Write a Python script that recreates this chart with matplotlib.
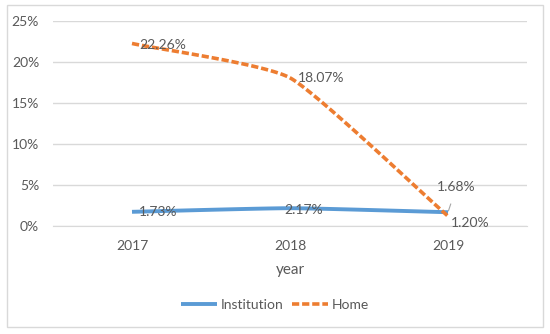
import numpy as np
import matplotlib
matplotlib.use("Agg")
import matplotlib.pyplot as plt
from matplotlib.patches import Rectangle

years = ["2017", "2018", "2019"]
institution = [1.73, 2.17, 1.68]
home = [22.26, 18.07, 1.20]
yticks = [0, 5, 10, 15, 20, 25]

BLUE = "#5B9BD5"
ORANGE = "#ED7D31"
TXT = "#595959"
GRID = "#D9D9D9"

plt.rcParams['font.family'] = ['Lato', 'DejaVu Sans']


def smooth(xs, ys, tension=0.08, n=40):
    # light Bezier smoothing (Excel "smoothed line" look)
    xs = np.asarray(xs, float)
    ys = np.asarray(ys, float)
    px = np.concatenate([[2 * xs[0] - xs[1]], xs, [2 * xs[-1] - xs[-2]]])
    py = np.concatenate([[2 * ys[0] - ys[1]], ys, [2 * ys[-1] - ys[-2]]])
    ox, oy = [], []
    t = np.linspace(0, 1, n)
    for i in range(1, len(px) - 2):
        p0, p1, p2, p3 = [np.array([px[j], py[j]]) for j in range(i - 1, i + 3)]
        c1 = p1 + (p2 - p0) * tension
        c2 = p2 - (p3 - p1) * tension
        for tt in t:
            b = ((1 - tt) ** 3) * p1 + 3 * ((1 - tt) ** 2) * tt * c1 + 3 * (1 - tt) * tt ** 2 * c2 + tt ** 3 * p2
            ox.append(b[0]); oy.append(b[1])
    return np.array(ox), np.array(oy)


fig = plt.figure(figsize=(5.5, 3.34), dpi=100)
fig.patches.append(Rectangle((7 / 550, 1 - 327 / 334), 536 / 550, 322 / 334,
                             transform=fig.transFigure, fill=False,
                             edgecolor=GRID, linewidth=1))
ax = fig.add_axes([53 / 550, 1 - 226 / 334, 474 / 550, 205 / 334])

x = np.arange(len(years))
sx, sy = smooth(x, institution)
ax.plot(sx, sy, color=BLUE, linewidth=2.8, solid_capstyle='butt', label="Institution")
hx, hy = smooth(x, home)
ax.plot(hx, hy, color=ORANGE, linewidth=2.6, linestyle=(0, (2.0, 0.8)),
        dash_capstyle='butt', label="Home")

ax.set_xlim(-0.5, 2.5)
ax.set_ylim(0, 25)
ax.set_yticks(yticks)
ax.set_yticklabels([f"{v}%" for v in yticks])
ax.set_xticks(x)
ax.set_xticklabels(years)
ax.grid(axis='y', color=GRID, linewidth=1)
ax.set_axisbelow(True)
for s in ax.spines.values():
    s.set_visible(False)
ax.spines['bottom'].set_visible(True)
ax.spines['bottom'].set_color(GRID)
ax.tick_params(length=0, colors=TXT, labelsize=10)
ax.tick_params(axis='x', pad=10)
ax.tick_params(axis='y', pad=10)
ax.set_xlabel("year", color=TXT, fontsize=11, labelpad=8)

fs = 10
# Home labels
ax.annotate(f"{home[0]:.2f}%", (x[0], home[0]), xytext=(5, -1), textcoords='offset points',
            color=TXT, fontsize=fs, va='center', ha='left')
ax.annotate(f"{home[1]:.2f}%", (x[1], home[1]), xytext=(6, 0), textcoords='offset points',
            color=TXT, fontsize=fs, va='center', ha='left')
ax.annotate(f"{home[2]:.2f}%", (x[2], home[2]), xytext=(2, -5), textcoords='offset points',
            color=TXT, fontsize=fs, va='center', ha='left')
# Institution labels
ax.annotate(f"{institution[0]:.2f}%", (x[0], institution[0]), xytext=(5, 0), textcoords='offset points',
            color=TXT, fontsize=fs, va='center', ha='left')
ax.annotate(f"{institution[1]:.2f}%", (x[1], institution[1]), xytext=(-4, -1), textcoords='offset points',
            color=TXT, fontsize=fs, va='center', ha='left')
ax.annotate(f"{institution[2]:.2f}%", (x[2], institution[2]), xytext=(6, 18), textcoords='offset points',
            color=TXT, fontsize=fs, va='center', ha='center',
            arrowprops=dict(arrowstyle='-', color='#A6A6A6', lw=0.8, shrinkA=6, shrinkB=1))

leg = fig.legend(loc='center', bbox_to_anchor=(0.5, 1 - 305 / 334), ncol=2, frameon=False,
                 fontsize=10, handlelength=2.6, columnspacing=0.6, handletextpad=0.3)
for t in leg.get_texts():
    t.set_color(TXT)

fig.savefig("out.png", dpi=100)
